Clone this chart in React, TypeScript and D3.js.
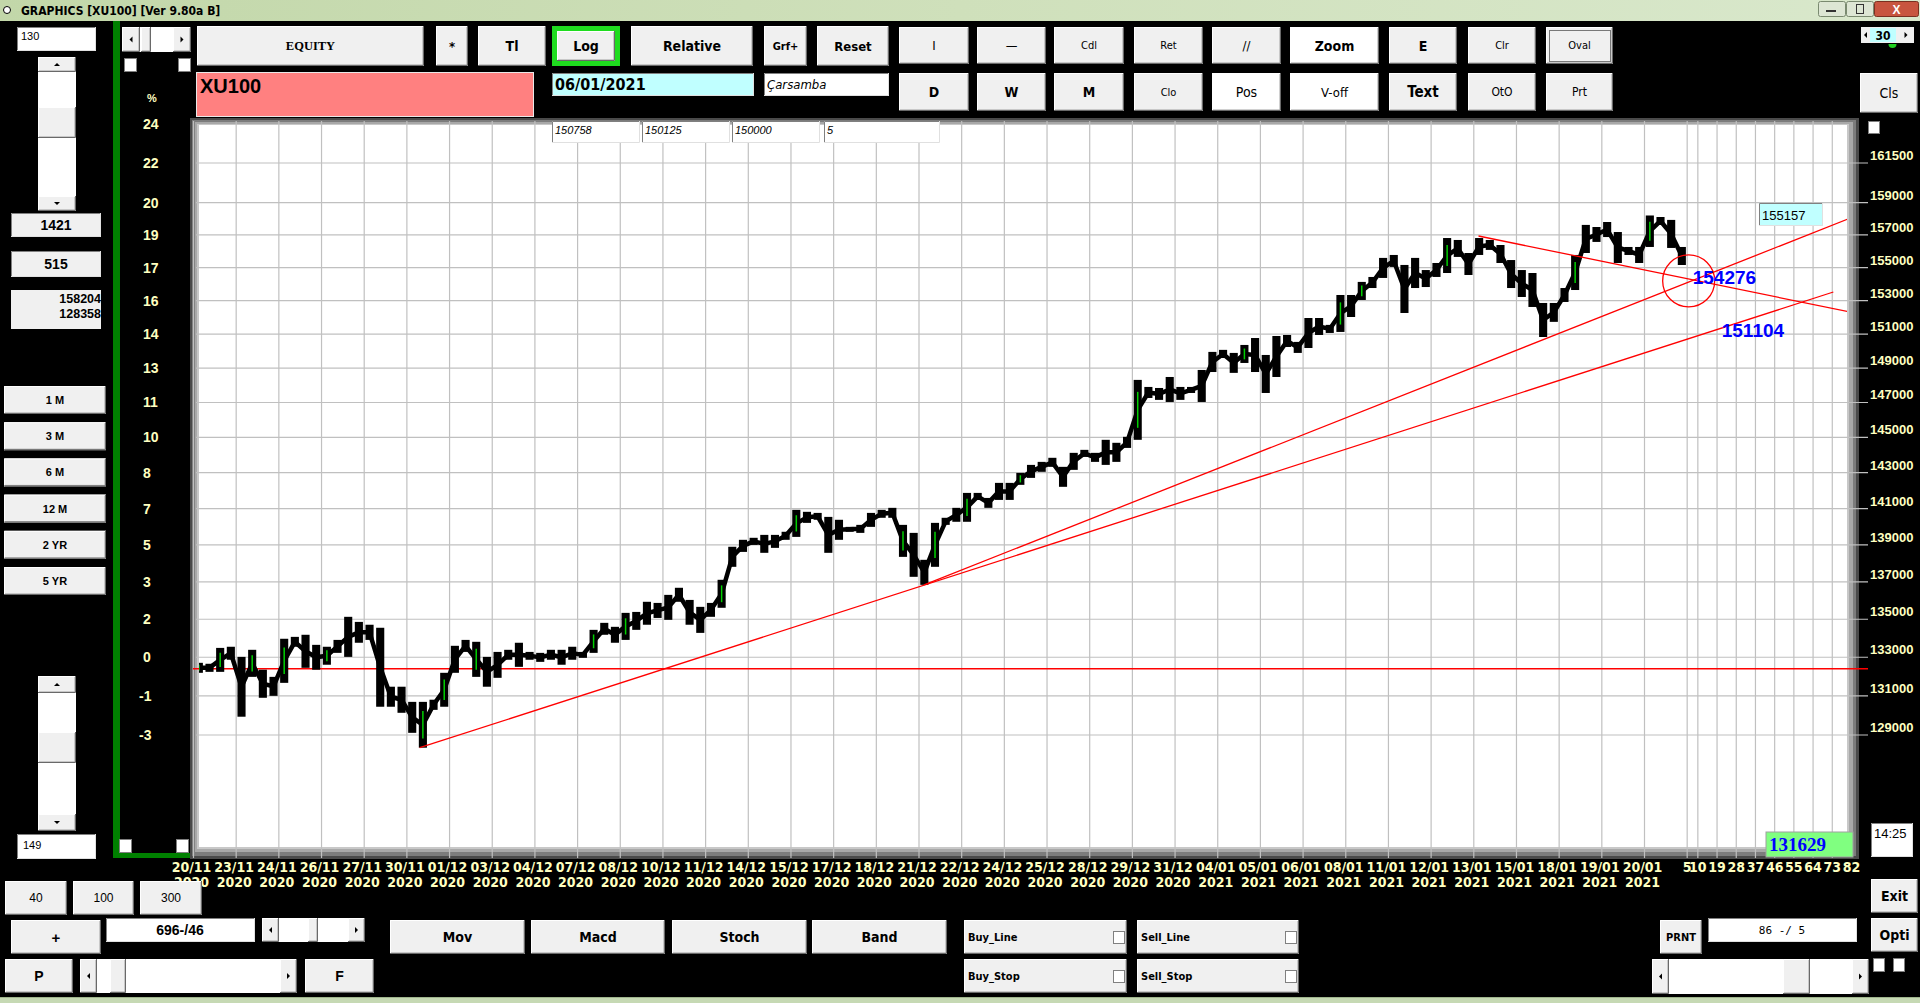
import React from 'react';
import * as d3 from 'd3';

const NARROW = "'Liberation Sans Narrow','Arial Narrow','DejaVu Sans Condensed',sans-serif";
const SANS = "'Liberation Sans',Arial,sans-serif";
const SERIF = "'Liberation Serif','Times New Roman',serif";
const LABEL = '#ffffc0';

// date axis, one label every 20 bars
const dates = [
  '20/11', '23/11', '24/11', '26/11', '27/11', '30/11', '01/12', '03/12', '04/12', '07/12',
  '08/12', '10/12', '11/12', '14/12', '15/12', '17/12', '18/12', '21/12', '22/12', '24/12',
  '25/12', '28/12', '29/12', '31/12', '04/01', '05/01', '06/01', '08/01', '11/01', '12/01',
  '13/01', '15/01', '18/01', '19/01', '20/01',
];
const years = dates.map((_, i) => (i < 24 ? '2020' : '2021'));
const barsPerLabel = 20;
// bar counter printed past the last bar
const futureTicks = [5, 10, 19, 28, 37, 46, 55, 64, 73, 82];
const lastBar = 695;

// price axis (log) and the % scale printed on the left
const priceTicks = [
  161500, 159000, 157000, 155000, 153000, 151000, 149000, 147000, 145000,
  143000, 141000, 139000, 137000, 135000, 133000, 131000, 129000,
];
const pctPrices = [164000, ...priceTicks];
const pctTicks = [24, 22, 20, 19, 17, 16, 14, 13, 11, 10, 8, 7, 5, 3, 2, 0, -1, -3];

// XU100 intraday, high / low of every 5 bars
const barsPerSample = 5;
const highs = [
  132710, 132660, 133490, 133550, 133020, 133390, 132350, 131980, 133970, 134070,
  134180, 133650, 133550, 133910, 135130, 134860, 134710, 134550, 131470, 131470,
  130690, 130690, 130800, 132190, 133600, 133910, 133810, 133020, 133280, 133390,
  133760, 133280, 133230, 133390, 133390, 133550, 133280, 134440, 134810, 134600,
  135340, 135390, 135930, 135870, 136300, 136680, 136030, 135660, 135870, 137110,
  138900, 139280, 139390, 139550, 139550, 139720, 140930, 140820, 140760, 140540,
  140380, 139990, 140100, 140760, 140930, 141040, 140100, 139660, 138190, 140210,
  140490, 141040, 141870, 141870, 141590, 142430, 142430, 142990, 143440, 143610,
  143840, 143330, 144120, 144290, 144120, 144860, 144690, 145030, 148310, 147900,
  147840, 148480, 147900, 147900, 148890, 149950, 150070, 149890, 150360, 150770,
  149770, 150890, 150950, 150540, 151960, 151960, 151550, 153340, 153340, 154130,
  154430, 155590, 155770, 155160, 155590, 154850, 155280, 156810, 156690, 155890,
  156810, 156690, 156380, 155460, 154850, 154670, 152860, 152860, 153760, 155770,
  157620, 157490, 157800, 157180, 156260, 156260, 158204, 158110, 157930, 156260,
];
const lows = [
  132190, 132240, 132240, 132870, 129930, 131980, 130900, 131000, 131670, 133550,
  132450, 132350, 132610, 133230, 133020, 133760, 133910, 130440, 130440, 130130,
  129110, 128358, 130280, 130440, 132190, 133280, 131980, 131470, 131930, 132870,
  132500, 132870, 132760, 132870, 132610, 132870, 132970, 133230, 134180, 133760,
  133910, 134440, 134710, 135070, 134970, 135930, 134710, 134280, 135130, 135610,
  137810, 138620, 139000, 138570, 138840, 139280, 139440, 140210, 140380, 138570,
  139280, 139720, 139660, 139990, 140490, 140490, 138350, 137270, 136838, 137810,
  140100, 140270, 140270, 141480, 141040, 141480, 141480, 142320, 142710, 143050,
  143330, 142210, 143160, 143890, 143610, 143440, 143610, 144400, 144860, 147260,
  147150, 147030, 147150, 147550, 147030, 148770, 149590, 148720, 149300, 148770,
  147550, 148480, 150240, 149890, 150180, 150950, 151070, 151130, 152020, 153040,
  153760, 154370, 155040, 152260, 153760, 153820, 154430, 154670, 155650, 154550,
  155770, 156080, 155280, 153760, 153220, 152620, 150830, 151730, 152920, 153640,
  155890, 156570, 156870, 155280, 155770, 155280, 156260, 157620, 156200, 155157,
];
const upSamples = [0, 2, 5, 8, 12, 21, 23, 26, 37, 40, 49, 56, 66, 69, 72, 77, 88, 98, 107, 109, 117, 129, 136];

// drawn objects
const baseLevel = 132400;
const trendLines = [
  { b1: 106, p1: 128358, b2: 768.5, p2: 153520 },
  { b1: 342.4, p1: 136838, b2: 775.4, p2: 157990 },
  { b1: 602.2, p1: 156935, b2: 775.4, p2: 152340 },
];
const oval = { bar: 700.7, price: 154189 };
const levelTags = [
  { bar: 702.6, value: 154276 },
  { bar: 716.2, value: 151104 },
];

type BtnProps = {
  x: number; y: number; w: number; h: number; label?: string;
  fs?: number; fw?: number | string; ff?: string; bg?: string; italic?: boolean; left?: boolean;
};

const Btn: React.FC<BtnProps> = ({ x, y, w, h, label = '', fs = 13, fw = 700, ff = NARROW, bg = '#f0f0f0', italic, left }) => (
  <g>
    <rect x={x} y={y} width={w} height={h} fill={bg} />
    <path d={`M${x + 0.5} ${y + h} V${y + 0.5} H${x + w}`} stroke="#fff" fill="none" />
    <path d={`M${x + 1} ${y + h - 1} H${x + w - 1} V${y + 1}`} stroke="#a0a0a0" fill="none" />
    <path d={`M${x} ${y + h - 0.5} H${x + w - 0.5} V${y}`} stroke="#696969" fill="none" />
    <text
      x={left ? x + 4 : x + w / 2}
      y={y + h / 2}
      dominantBaseline="central"
      textAnchor={left ? 'start' : 'middle'}
      fontSize={fs}
      fontWeight={fw}
      fontFamily={ff}
      fontStyle={italic ? 'italic' : 'normal'}
      fill="#000"
    >
      {label}
    </text>
  </g>
);

const Field: React.FC<{ x: number; y: number; w: number; h: number; bg?: string; children?: React.ReactNode }> = ({ x, y, w, h, bg = '#fff', children }) => (
  <g>
    <rect x={x} y={y} width={w} height={h} fill={bg} />
    <path d={`M${x + 0.5} ${y + h} V${y + 0.5} H${x + w}`} stroke="#808080" fill="none" />
    <path d={`M${x} ${y + h - 0.5} H${x + w - 0.5} V${y}`} stroke="#e0e0e0" fill="none" />
    {children}
  </g>
);

const Check: React.FC<{ x: number; y: number; w?: number; h?: number }> = ({ x, y, w = 12, h = 13 }) => (
  <rect x={x + 0.5} y={y + 0.5} width={w} height={h} fill="#fff" stroke="#808080" />
);

const Arrow: React.FC<{ cx: number; cy: number; dir: 'u' | 'd' | 'l' | 'r' }> = ({ cx, cy, dir }) => {
  const s = 3;
  const d = {
    u: `M${cx - s} ${cy + 1.5} L${cx + s} ${cy + 1.5} L${cx} ${cy - 1.5} Z`,
    d: `M${cx - s} ${cy - 1.5} L${cx + s} ${cy - 1.5} L${cx} ${cy + 1.5} Z`,
    l: `M${cx + 1.5} ${cy - s} L${cx + 1.5} ${cy + s} L${cx - 1.5} ${cy} Z`,
    r: `M${cx - 1.5} ${cy - s} L${cx - 1.5} ${cy + s} L${cx + 1.5} ${cy} Z`,
  }[dir];
  return <path d={d} fill="#000" />;
};

const VScroll: React.FC<{ x: number; y: number; w: number; h: number; ty: number; th: number; ah: number }> = ({ x, y, w, h, ty, th, ah }) => (
  <g>
    <rect x={x} y={y} width={w} height={h} fill="#fff" />
    <Btn x={x} y={y} w={w} h={ah} />
    <Btn x={x} y={y + h - ah} w={w} h={ah} />
    <Arrow cx={x + w / 2} cy={y + ah / 2} dir="u" />
    <Arrow cx={x + w / 2} cy={y + h - ah / 2} dir="d" />
    <Btn x={x} y={ty} w={w} h={th} />
  </g>
);

const HScroll: React.FC<{ x: number; y: number; w: number; h: number; tx: number; tw: number; aw: number }> = ({ x, y, w, h, tx, tw, aw }) => (
  <g>
    <rect x={x} y={y} width={w} height={h} fill="#fff" />
    <Btn x={x} y={y} w={aw} h={h} />
    <Btn x={x + w - aw} y={y} w={aw} h={h} />
    <Arrow cx={x + aw / 2} cy={y + h / 2} dir="l" />
    <Arrow cx={x + w - aw / 2} cy={y + h / 2} dir="r" />
    <Btn x={tx} y={y} w={tw} h={h} />
  </g>
);

const App: React.FC = () => {
  const x = d3.scaleLinear().domain([0, 680]).range([193.5, 1644.5]);
  const y = d3.scaleLog().domain([129000, 161500]).range([735, 163]);

  const plot = { x0: 199, y0: 125, x1: 1847, y1: 847 };

  const samples = highs.map((h, i) => ({
    cx: x(i * barsPerSample + 2.5),
    yh: y(h),
    yl: y(lows[i]),
  }));
  const midLine = d3
    .line<{ cx: number; yh: number; yl: number }>()
    .x((d) => d.cx)
    .y((d) => (d.yh + d.yl) / 2);
  const step = x(barsPerSample) - x(0);

  const gridBars = [
    ...dates.map((_, i) => i * barsPerLabel),
    ...futureTicks.map((t) => lastBar + t),
  ].filter((b) => x(b) < plot.x1);

  const topRow = [
    { x: 899, w: 70, t: 'I', fs: 13, fw: 400 },
    { x: 977, w: 69, t: '—', fs: 13, fw: 400 },
    { x: 1054, w: 70, t: 'Cdl', fs: 11, fw: 400 },
    { x: 1134, w: 69, t: 'Ret', fs: 11, fw: 400 },
    { x: 1212, w: 69, t: '//', fs: 13, fw: 400 },
    { x: 1290, w: 89, t: 'Zoom', fs: 14, fw: 700, bg: '#fff' },
    { x: 1389, w: 68, t: 'E', fs: 14, fw: 700 },
    { x: 1468, w: 68, t: 'Clr', fs: 11, fw: 400 },
    { x: 1546, w: 67, t: 'Oval', fs: 11, fw: 400 },
  ];
  const secondRow = [
    { x: 899, w: 70, t: 'D', fs: 14, fw: 700 },
    { x: 977, w: 69, t: 'W', fs: 14, fw: 700 },
    { x: 1054, w: 70, t: 'M', fs: 14, fw: 700 },
    { x: 1134, w: 69, t: 'Clo', fs: 11, fw: 400 },
    { x: 1212, w: 69, t: 'Pos', fs: 14, fw: 400, bg: '#fff' },
    { x: 1290, w: 89, t: 'V-off', fs: 13, fw: 400, bg: '#fff' },
    { x: 1389, w: 68, t: 'Text', fs: 15, fw: 700 },
    { x: 1468, w: 68, t: 'OtO', fs: 12, fw: 400 },
    { x: 1546, w: 67, t: 'Prt', fs: 12, fw: 400 },
  ];
  const periodButtons = ['1 M', '3 M', '6 M', '12 M', '2 YR', '5 YR'];
  const entryBoxes = [
    { x: 552, w: 88, t: '150758' },
    { x: 642, w: 88, t: '150125' },
    { x: 732, w: 88, t: '150000' },
    { x: 824, w: 116, t: '5' },
  ];

  return (
    <svg
      width={1920}
      height={1003}
      style={{ position: 'fixed', left: 0, top: 0, display: 'block', background: '#000' }}
    >
      <defs>
        <linearGradient id="titleGrad" x1="0" x2="1" y1="0" y2="0">
          <stop offset="0" stopColor="#c2d7a9" />
          <stop offset="0.5" stopColor="#cfe0bb" />
          <stop offset="1" stopColor="#d9e8cc" />
        </linearGradient>
        <clipPath id="plotClip">
          <rect x={plot.x0} y={plot.y0} width={plot.x1 - plot.x0} height={plot.y1 - plot.y0} />
        </clipPath>
      </defs>

      <rect x={0} y={0} width={1920} height={1003} fill="#000" />

      {/* title bar */}
      <rect x={0} y={0} width={1920} height={21} fill="url(#titleGrad)" />
      <circle cx={7} cy={10} r={3.5} fill="#fff" stroke="#000" />
      <text x={21} y={14.5} fontSize={12} fontWeight={700} fontFamily={NARROW}>
        GRAPHICS  [XU100] [Ver 9.80a B]
      </text>
      <rect x={1818.5} y={1.5} width={27} height={15} fill="#dde6d4" stroke="#7a8a70" rx={2} />
      <rect x={1826} y={10} width={10} height={2} fill="#333" />
      <rect x={1846.5} y={1.5} width={27} height={15} fill="#dde6d4" stroke="#7a8a70" rx={2} />
      <rect x={1856.5} y={4.5} width={7} height={9} fill="none" stroke="#333" />
      <rect x={1874.5} y={1.5} width={44} height={15} fill="#c8553f" stroke="#7a3020" rx={2} />
      <text x={1896.5} y={13.5} textAnchor="middle" fontSize={12} fontWeight={700} fontFamily={SANS} fill="#fff">
        X
      </text>

      {/* left column */}
      <Field x={17} y={27} w={79} h={24}>
        <text x={21} y={40} fontSize={11} fontFamily={SANS}>130</text>
      </Field>
      <VScroll x={38} y={57} w={38} h={154} ty={107} th={31} ah={15} />
      <Field x={11} y={213} w={90} h={24} bg="#f0f0f0">
        <text x={56} y={230} textAnchor="middle" fontSize={14} fontWeight={700} fontFamily={SANS}>1421</text>
      </Field>
      <Field x={11} y={251} w={90} h={26} bg="#f0f0f0">
        <text x={56} y={269} textAnchor="middle" fontSize={14} fontWeight={700} fontFamily={SANS}>515</text>
      </Field>
      <rect x={11} y={290} width={90} height={39} fill="#f0f0f0" />
      <text x={101} y={303} textAnchor="end" fontSize={12.5} fontWeight={700} fontFamily={SANS}>158204</text>
      <text x={101} y={318} textAnchor="end" fontSize={12.5} fontWeight={700} fontFamily={SANS}>128358</text>
      {periodButtons.map((t, i) => (
        <Btn key={t} x={4} y={386 + i * 36.2} w={102} h={28} label={t} fs={11} ff={SANS} />
      ))}
      <VScroll x={38} y={676} w={38} h={155} ty={732} th={31} ah={17} />
      <Field x={17} y={834} w={79} h={25}>
        <text x={23} y={849} fontSize={11} fontFamily={SANS}>149</text>
      </Field>

      {/* green frame of the % column */}
      <rect x={113} y={21} width={7} height={837} fill="#008000" />
      <rect x={113} y={853} width={78} height={5} fill="#008000" />
      <HScroll x={122} y={27} w={69} h={25} tx={141} tw={10} aw={18} />
      <Check x={124} y={58} />
      <Check x={178} y={58} />
      <Check x={119} y={839} />
      <Check x={176} y={839} />

      {/* % scale */}
      <text x={152} y={102} textAnchor="middle" fontSize={11} fontWeight={700} fontFamily={SANS} fill={LABEL}>%</text>
      {pctTicks.map((t, i) => (
        <text
          key={i}
          x={t < 0 ? 139 : 143}
          y={y(pctPrices[i]) + 5}
          fontSize={14}
          fontWeight={700}
          fontFamily={SANS}
          fill={LABEL}
        >
          {t}
        </text>
      ))}

      {/* plot frame */}
      <rect x={190} y={118} width={1669} height={741} fill="#4a4a4a" />
      <rect x={192} y={120} width={1664} height={736} fill="#7c7c7c" />
      <rect x={195} y={122} width={1658} height={730} fill="#a8a8a8" />
      <rect x={197} y={124} width={1652} height={725} fill="#c8c8c8" />
      <rect x={plot.x0} y={plot.y0} width={plot.x1 - plot.x0} height={plot.y1 - plot.y0} fill="#fff" />

      {/* grid */}
      {gridBars.map((b) => (
        <line key={`v${b}`} x1={x(b)} x2={x(b)} y1={121} y2={858} stroke="#c0c0c0" strokeWidth={1.2} />
      ))}
      {priceTicks.map((p) => (
        <line key={`h${p}`} x1={196} x2={1868} y1={y(p)} y2={y(p)} stroke="#c0c0c0" strokeWidth={1.2} />
      ))}

      {/* price axis */}
      {priceTicks.map((p) => (
        <text key={`pl${p}`} x={1870} y={y(p) - 3} fontSize={13} fontWeight={700} fontFamily={SANS} fill={LABEL}>
          {p}
        </text>
      ))}

      {/* base level */}
      <line x1={193} x2={1868} y1={y(baseLevel)} y2={y(baseLevel)} stroke="#ff0000" strokeWidth={1.3} />

      {/* price bars */}
      <g clipPath="url(#plotClip)">
        <path d={midLine(samples) ?? ''} fill="none" stroke="#000" strokeWidth={4.5} strokeLinejoin="round" />
        {samples.map((d, i) => (
          <rect
            key={i}
            x={d.cx - step * 0.38}
            y={d.yh}
            width={step * 0.76}
            height={Math.max(d.yl - d.yh, 3)}
            fill="#000"
          />
        ))}
        {upSamples.map((i) => {
          const d = samples[i];
          const pad = (d.yl - d.yh) * 0.2;
          return (
            <line key={`g${i}`} x1={d.cx} x2={d.cx} y1={d.yh + pad} y2={d.yl - pad} stroke="#00d000" strokeWidth={1.5} />
          );
        })}

        {/* trend lines and oval */}
        {trendLines.map((l, i) => (
          <line key={`t${i}`} x1={x(l.b1)} y1={y(l.p1)} x2={x(l.b2)} y2={y(l.p2)} stroke="#ff0000" strokeWidth={1.3} />
        ))}
        <circle cx={x(oval.bar)} cy={y(oval.price)} r={26} fill="none" stroke="#ff0000" strokeWidth={1.3} />
      </g>
      {levelTags.map((t) => (
        <text key={t.value} x={x(t.bar)} y={y(t.value) + 5} fontSize={19} fontWeight={700} fontFamily={SANS} fill="#0000ff">
          {t.value}
        </text>
      ))}
      <Field x={1759} y={203} w={64} h={23} bg="#c0ffff">
        <text x={1762} y={219.5} fontSize={13} fontFamily={SANS}>155157</text>
      </Field>

      {/* date axis */}
      {dates.map((dt, i) => (
        <g key={dt} fontSize={14} fontWeight={700} fontFamily={NARROW} fill={LABEL} textAnchor="middle">
          <text x={x(i * barsPerLabel) - 2} y={872}>{dt}</text>
          <text x={x(i * barsPerLabel) - 2} y={887}>{years[i]}</text>
        </g>
      ))}
      {futureTicks.map((t) => (
        <text key={`f${t}`} x={x(lastBar + t)} y={872} textAnchor="middle" fontSize={14} fontWeight={700} fontFamily={NARROW} fill={LABEL}>
          {t}
        </text>
      ))}

      {/* top toolbar */}
      <Btn x={197} y={26} w={227} h={40} label="EQUITY" ff={SERIF} fs={12.5} />
      <Btn x={436} y={26} w={32} h={40} label="*" fs={13} />
      <Btn x={478} y={26} w={68} h={40} label="Tl" fs={14} />
      <rect x={552} y={26} width={68} height={40} fill="#1fdc1f" />
      <Btn x={557} y={31} w={58} h={30} label="Log" fs={14} />
      <Btn x={631} y={26} w={122} h={40} label="Relative" fs={14} />
      <Btn x={764} y={26} w={43} h={40} label="Grf+" fs={11} />
      <Btn x={817} y={26} w={72} h={40} label="Reset" fs={13} />
      {topRow.map((b) => (
        <Btn key={b.t} x={b.x} y={27} w={b.w} h={37} label={b.t} fs={b.fs} fw={b.fw} bg={b.bg} />
      ))}
      <rect x={1549.5} y={30.5} width={61} height={31} fill="none" stroke="#000" strokeDasharray="1 1" />
      {secondRow.map((b) => (
        <Btn key={b.t} x={b.x} y={73} w={b.w} h={38} label={b.t} fs={b.fs} fw={b.fw} bg={b.bg} />
      ))}
      <Btn x={1860} y={73} w={58} h={40} label="Cls" fs={14} fw={400} />

      {/* spinner */}
      <rect x={1861} y={27} width={53} height={16} fill="#f0f0f0" />
      <Arrow cx={1865.5} cy={35} dir="l" />
      <rect x={1870} y={28} width={26} height={14} fill="#c0ffff" />
      <text x={1883} y={39.5} textAnchor="middle" fontSize={12} fontWeight={700} fontFamily={NARROW}>30</text>
      <Arrow cx={1906} cy={35} dir="r" />
      <path d="M1888.5 44 A4 4 0 0 0 1896.5 44 Z" fill="#20d020" />
      <Check x={1868} y={121} w={11} h={12} />

      {/* symbol, date and entry fields */}
      <rect x={196.5} y={72.5} width={337} height={44} fill="#ff8080" stroke="#e8e8e8" />
      <text x={200} y={93} fontSize={20} fontWeight={700} fontFamily={SANS}>XU100</text>
      <Field x={552} y={73} w={202} h={23} bg="#c0ffff">
        <text x={555} y={90} fontSize={16} fontWeight={700} fontFamily={NARROW}>06/01/2021</text>
      </Field>
      <Field x={764} y={73} w={125} h={23}>
        <text x={767} y={89} fontSize={13} fontStyle="italic" fontFamily={NARROW}>Çarsamba</text>
      </Field>
      {entryBoxes.map((b) => (
        <Field key={b.t} x={b.x} y={121} w={b.w} h={22}>
          <text x={b.x + 3} y={134} fontSize={11} fontStyle="italic" fontFamily={SANS}>{b.t}</text>
        </Field>
      ))}

      {/* right side readouts */}
      <rect x={1766} y={832} width={87} height={25} fill="#80ff80" stroke="#a0a0a0" />
      <text x={1769} y={851} fontSize={19} fontWeight={700} fontFamily={SERIF} fill="#0000ff">131629</text>
      <Field x={1871} y={823} w={42} h={34}>
        <text x={1874} y={838} fontSize={13} fontFamily={SANS}>14:25</text>
      </Field>

      {/* bottom controls */}
      <Btn x={5} y={881} w={62} h={34} label="40" fs={12} fw={400} ff={SANS} />
      <Btn x={73} y={881} w={61} h={34} label="100" fs={12} fw={400} ff={SANS} />
      <Btn x={140} y={881} w={62} h={34} label="300" fs={12} fw={400} ff={SANS} />
      <Btn x={11} y={920} w={90} h={34} label="+" fs={15} ff={SANS} />
      <Field x={106} y={918} w={149} h={24}>
        <text x={180} y={935} textAnchor="middle" fontSize={14} fontWeight={700} fontFamily={SANS}>696-/46</text>
      </Field>
      <HScroll x={262} y={918} w={103} h={24} tx={308} tw={10} aw={17} />
      <Btn x={5} y={959} w={68} h={34} label="P" fs={14} ff={SANS} />
      <HScroll x={80} y={959} w={217} h={34} tx={110} tw={16} aw={17} />
      <Btn x={305} y={959} w={69} h={34} label="F" fs={14} ff={SANS} />
      <Btn x={390} y={920} w={135} h={34} label="Mov" fs={14} />
      <Btn x={531} y={920} w={134} h={34} label="Macd" fs={14} />
      <Btn x={672} y={920} w={135} h={34} label="Stoch" fs={14} />
      <Btn x={812} y={920} w={135} h={34} label="Band" fs={14} />
      {[
        { x: 964, y: 920, w: 163, t: 'Buy_Line' },
        { x: 964, y: 959, w: 163, t: 'Buy_Stop' },
        { x: 1137, y: 920, w: 162, t: 'Sell_Line' },
        { x: 1137, y: 959, w: 162, t: 'Sell_Stop' },
      ].map((b) => (
        <g key={b.t}>
          <Btn x={b.x} y={b.y} w={b.w} h={34} label={b.t} fs={11} left />
          <Check x={b.x + b.w - 14} y={b.y + 11} w={11} h={12} />
        </g>
      ))}
      <Btn x={1660} y={920} w={42} h={34} label="PRNT" fs={11} />
      <Field x={1708} y={918} w={149} h={24}>
        <text x={1782} y={934} textAnchor="middle" fontSize={11} fontFamily="'DejaVu Sans Mono',monospace">86 -/ 5</text>
      </Field>
      <Btn x={1871} y={879} w={47} h={34} label="Exit" fs={14} />
      <Btn x={1871} y={918} w={47} h={34} label="Opti" fs={14} />
      <Check x={1873} y={958} w={11} h={13} />
      <Check x={1893} y={958} w={11} h={13} />
      <HScroll x={1652} y={959} w={217} h={35} tx={1783} tw={27} aw={17} />

      {/* task bar strip */}
      <rect x={0} y={997} width={1920} height={6} fill="#c6d9b4" />
      <rect x={0} y={997} width={1920} height={1} fill="#9fb58c" />
    </svg>
  );
};

export default App;
